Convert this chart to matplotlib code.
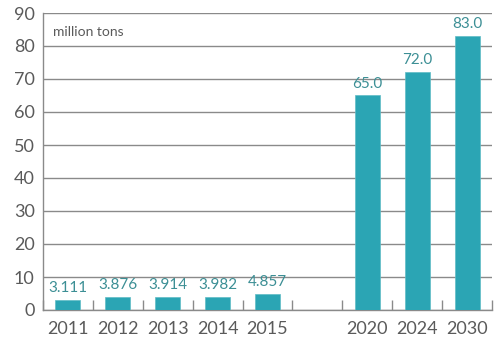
import matplotlib.pyplot as plt
import numpy as np

years = ['2011', '2012', '2013', '2014', '2015', '', '2020', '2024', '2030']
values = [3.111, 3.876, 3.914, 3.982, 4.857, None, 65.0, 72.0, 83.0]
labels = ['3.111', '3.876', '3.914', '3.982', '4.857', '', '65.0', '72.0', '83.0']
yticks = [0, 10, 20, 30, 40, 50, 60, 70, 80, 90]

BAR = '#2ba5b4'
TXT = '#5a5a5a'
VAL = '#3c8f95'
GRID = '#8a8a8a'

plt.rcParams['font.family'] = ['Lato', 'DejaVu Sans']

fig = plt.figure(figsize=(4.95, 3.43), dpi=100)
ax = fig.add_axes([43 / 495, 1 - 310 / 343, 449 / 495, 297 / 343])

x = np.arange(len(years))
for xi, v, lab in zip(x, values, labels):
    if v is None:
        continue
    ax.bar(xi, v, width=0.5, color=BAR, edgecolor='#5fbcc6', linewidth=0.5, zorder=3)
    ax.text(xi, v + 1.5, lab, ha='center', va='bottom', color=VAL, fontsize=11)

ax.set_xlim(-0.5, len(years) - 0.5)
ax.set_ylim(0, 90)
ax.set_yticks(yticks)
ax.set_yticklabels([str(t) for t in yticks])
ax.yaxis.grid(True, color=GRID, linewidth=1.0, zorder=0)
ax.set_axisbelow(True)

ax.set_xticks(x)
ax.set_xticklabels(years)
ax.set_xticks(np.arange(len(years) + 1) - 0.5, minor=True)
ax.tick_params(axis='x', which='major', length=0, pad=8, labelsize=13, labelcolor=TXT)
ax.tick_params(axis='x', which='minor', direction='in', length=7, color=GRID, width=1)
ax.tick_params(axis='y', length=0, pad=6, labelsize=13, labelcolor=TXT)

for s in ['top', 'right']:
    ax.spines[s].set_visible(False)
for s in ['left', 'bottom']:
    ax.spines[s].set_color(GRID)
    ax.spines[s].set_linewidth(1.0)

ax.text(0.022, 0.955, 'million tons', transform=ax.transAxes, ha='left', va='top',
        fontsize=10, color=TXT)

fig.savefig('out.png', dpi=100)
